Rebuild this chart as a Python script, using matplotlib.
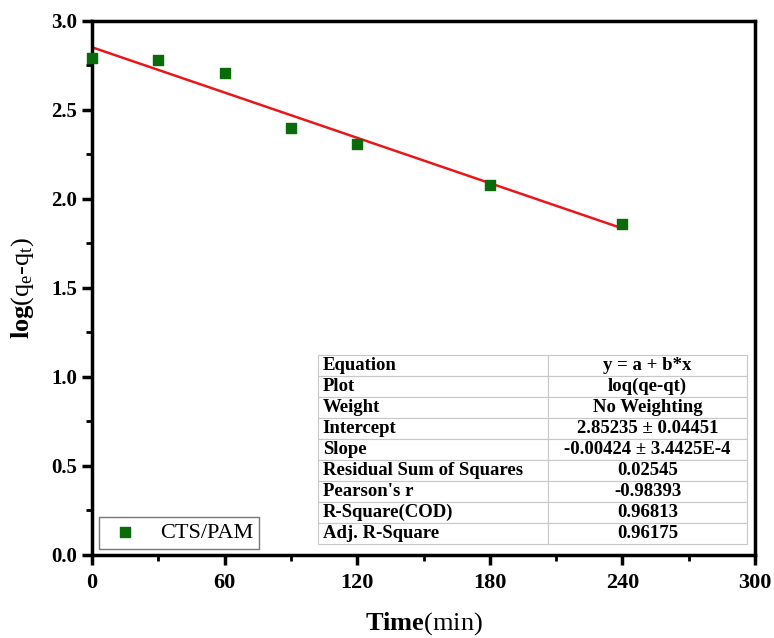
import matplotlib.pyplot as plt
import numpy as np

plt.rcParams["font.family"] = ["Liberation Serif", "DejaVu Serif"]
plt.rcParams["mathtext.fontset"] = "custom"
plt.rcParams["mathtext.rm"] = "Liberation Serif"
plt.rcParams["mathtext.it"] = "Liberation Serif:italic"
plt.rcParams["mathtext.bf"] = "Liberation Serif:bold"

# ─── Data ────────────────────────────────────────────────────────────────────

time_min = [0, 30, 60, 90, 120, 180, 240]
log_qe_qt = [2.79, 2.78, 2.71, 2.40, 2.31, 2.08, 1.86]

intercept = 2.85235
slope = -0.00424

table_keys = ["Equation", "Plot", "Weight", "Intercept", "Slope",
              "Residual Sum of Squares", "Pearson's r", "R-Square(COD)", "Adj. R-Square"]
table_vals = ["y = a + b*x", "loq(qe-qt)", "No Weighting", "2.85235 ± 0.04451",
              "-0.00424 ± 3.4425E-4", "0.02545", "-0.98393", "0.96813", "0.96175"]

x_ticks = [0, 60, 120, 180, 240, 300]
y_ticks = [0.0, 0.5, 1.0, 1.5, 2.0, 2.5, 3.0]

# ─── Plot ────────────────────────────────────────────────────────────────────

fig = plt.figure(figsize=(7.74, 6.38), dpi=100)
ax = fig.add_axes([0.1189, 0.1301, 0.8566, 0.837])

fit_x = np.array([time_min[0], time_min[-1]])
ax.plot(fit_x, intercept + slope * fit_x, color="#e8171b", lw=1.8, zorder=2)
ax.scatter(time_min, log_qe_qt, marker="s", s=60, color="#0a6b0a",
           label="CTS/PAM", zorder=3, clip_on=False)

ax.set_xlim(0, 300)
ax.set_ylim(0, 3.0)
ax.set_xticks(x_ticks)
ax.set_yticks(y_ticks)
ax.set_xticks(np.arange(30, 300, 60), minor=True)
ax.set_yticks(np.arange(0.25, 3.0, 0.5), minor=True)
ax.set_yticklabels([f"{v:.1f}" for v in y_ticks])

for s in ax.spines.values():
    s.set_linewidth(2.5)
ax.tick_params(which="major", direction="out", length=7, width=2.5,
               top=False, right=False)
ax.tick_params(which="minor", direction="out", length=4, width=2,
               top=False, right=False)
ax.tick_params(axis="x", labelsize=16, pad=6)
ax.tick_params(axis="y", labelsize=15)
for lbl in ax.get_xticklabels() + ax.get_yticklabels():
    lbl.set_fontweight("bold")

ax.set_ylabel(r"$\mathbf{log}$(q$_\mathrm{e}$-q$_\mathrm{t}$)", fontsize=19)
ax.yaxis.set_label_coords(-0.085, 0.5)
ax.set_xlabel(r"$\mathbf{Time}$(min)", fontsize=19)
ax.xaxis.set_label_coords(0.5, -0.103)

leg = ax.legend(loc="lower left", bbox_to_anchor=(0.011, 0.012), fontsize=16,
                frameon=True, fancybox=False, edgecolor="#555555",
                handlelength=1.8, handletextpad=0.7, borderpad=0.25,
                scatterpoints=1, markerscale=0.85, borderaxespad=0)
leg.get_frame().set_linewidth(1.0)

tbl = ax.table(cellText=[[k, v] for k, v in zip(table_keys, table_vals)],
               colWidths=[0.536, 0.464], bbox=[0.341, 0.021, 0.647, 0.354],
               cellLoc="center", zorder=4)
tbl.auto_set_font_size(False)
for (r, c), cell in tbl.get_celld().items():
    cell.set_edgecolor("#c8c8c8")
    cell.set_linewidth(0.8)
    cell.set_text_props(fontsize=13.5, fontweight="bold")
    if c == 0:
        cell.set_text_props(ha="left")
        cell.PAD = 0.02

plt.savefig("out.png", dpi=100)
